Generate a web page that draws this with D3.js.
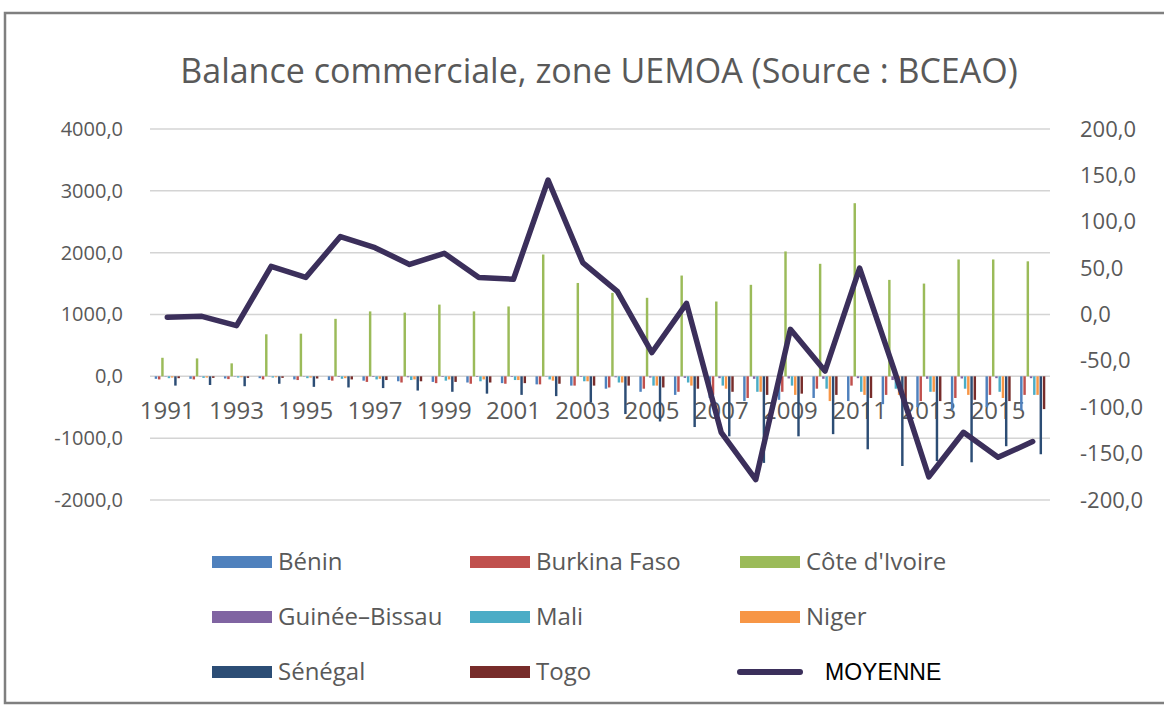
<!DOCTYPE html>
<html>
<head>
<meta charset="utf-8">
<script src="https://cdn.jsdelivr.net/npm/d3@7"></script>
<style>
  body { margin: 0; background: #fff; }
  svg { display: block; font-family: "Open Sans", "Noto Sans", sans-serif; }
  .lbl { fill: #595959; }
</style>
</head>
<body>
<svg id="chart" width="1164" height="708"></svg>
<script>
// Années (catégories) et étiquettes de l'axe horizontal.
const years = ["1991", "1992", "1993", "1994", "1995", "1996", "1997", "1998", "1999", "2000",
  "2001", "2002", "2003", "2004", "2005", "2006", "2007", "2008", "2009", "2010",
  "2011", "2012", "2013", "2014", "2015", "2016"];
const yearLabels = ["1991", "1993", "1995", "1997", "1999", "2001", "2003", "2005", "2007",
  "2009", "2011", "2013", "2015"];

// Pays de la zone.
const countries = ["Bénin", "Burkina Faso", "Côte d'Ivoire", "Guinée–Bissau", "Mali", "Niger", "Sénégal", "Togo"];
const colors = ["#4f81bd", "#c0504d", "#9bbb59", "#8064a2", "#4bacc6", "#f79646", "#2c4d75", "#772c2a"];

// Balance commerciale par pays (milliards FCFA).
const benin = [-40, -40, -35, -30, -50, -60, -70, -80, -90, -100, -110, -130, -150, -200, -250, -300, -350, -400, -380, -350, -400, -450, -500, -550, -500, -550];
const burkina = [-50, -50, -45, -50, -60, -70, -90, -100, -110, -120, -120, -130, -150, -180, -200, -250, -300, -350, -250, -200, -150, -300, -400, -350, -300, -300];
const coteIvoire = [300, 290, 210, 680, 690, 930, 1050, 1030, 1160, 1050, 1130, 1970, 1510, 1350, 1270, 1630, 1210, 1480, 2020, 1820, 2800, 1560, 1500, 1890, 1890, 1860];
const guineeBissau = [-5, -5, -5, -4, -5, -10, -10, -15, -10, -10, -10, -5, -10, -15, -20, -25, -30, -40, -35, -40, -30, -60, -40, -35, -30, -30];
const mali = [-30, -25, -20, -20, -30, -40, -50, -60, -70, -80, -60, -50, -80, -100, -150, -100, -150, -250, -150, -200, -250, -200, -250, -200, -250, -300];
const niger = [-20, -20, -15, -15, -20, -30, -40, -50, -50, -50, -60, -70, -80, -100, -150, -150, -200, -250, -300, -400, -300, -300, -250, -300, -350, -300];
const senegal = [-150, -140, -160, -120, -170, -180, -190, -230, -250, -280, -300, -320, -420, -610, -730, -820, -970, -1400, -970, -935, -1180, -1450, -1370, -1390, -1130, -1260];
const togo = [-30, -25, -25, -25, -35, -50, -60, -80, -90, -100, -110, -120, -150, -150, -180, -200, -250, -300, -280, -300, -350, -400, -400, -380, -400, -530];

// Moyenne (axe de droite).
const moyenne = [-3, -2, -12, 52, 40, 84, 72, 54, 66, 40, 38, 145, 56, 25, -41, 12, -127, -178, -16, -61, 50, -60, -175, -127, -154, -137];

const leftTicks = [-2000, -1000, 0, 1000, 2000, 3000, 4000];
const rightTicks = [-200, -150, -100, -50, 0, 50, 100, 150, 200];

const series = [benin, burkina, coteIvoire, guineeBissau, mali, niger, senegal, togo];

const svg = d3.select("#chart");
const fr = d3.formatLocale({ decimal: ",", thousands: " ", grouping: [3], currency: ["", " €"], minus: "-" });
const fmt = fr.format(".1f");

// Cadre
svg.append("rect")
  .attr("x", 5).attr("y", 13)
  .attr("width", 1200).attr("height", 690)
  .attr("fill", "none").attr("stroke", "#7f7f7f").attr("stroke-width", 2.5);

// Titre
svg.append("text")
  .attr("class", "lbl")
  .attr("x", 599).attr("y", 83)
  .attr("text-anchor", "middle")
  .style("font-size", "34px")
  .text("Balance commerciale, zone UEMOA (Source : BCEAO)");

const x = d3.scaleBand().domain(years).range([150, 1050]).paddingInner(0.25).paddingOuter(0.125);
const x1 = d3.scaleBand().domain(countries).range([0, x.bandwidth()]);
const y = d3.scaleLinear().domain([-2000, 4000]).range([500, 129]);
const y2 = d3.scaleLinear().domain([-200, 200]).range([500, 129]);

// Quadrillage
svg.append("g")
  .selectAll("line")
  .data(leftTicks)
  .enter().append("line")
  .attr("x1", 150).attr("x2", 1050)
  .attr("y1", d => y(d)).attr("y2", d => y(d))
  .attr("stroke", "#d4d4d4").attr("stroke-width", 1.5);

// Axe gauche
const gLeft = svg.append("g")
  .attr("transform", "translate(150,0)")
  .call(d3.axisLeft(y).tickValues(leftTicks).tickFormat(fmt).tickSize(0).tickPadding(27));
// Axe droit
const gRight = svg.append("g")
  .attr("transform", "translate(1050,0)")
  .call(d3.axisRight(y2).tickValues(rightTicks).tickFormat(fmt).tickSize(0).tickPadding(30));
// Axe des années
const gBottom = svg.append("g")
  .attr("transform", "translate(0," + y(0) + ")")
  .call(d3.axisBottom(x).tickValues(yearLabels).tickSize(0).tickPadding(26));

[gLeft, gRight, gBottom].forEach(function (g) {
  g.select(".domain").remove();
  g.selectAll("text")
    .attr("fill", "#595959")
    .style("font-family", "\"Open Sans\", sans-serif");
});
gLeft.selectAll("text").style("font-size", "20px");
gRight.selectAll("text").style("font-size", "22px");
gBottom.selectAll("text").style("font-size", "24px");

// Barres
const groups = svg.append("g")
  .selectAll("g")
  .data(years)
  .enter().append("g")
  .attr("transform", d => "translate(" + x(d) + ",0)");

groups.selectAll("rect")
  .data((yr, i) => series.map((s, k) => ({ k: k, v: s[i] })))
  .enter().append("rect")
  .attr("x", d => x1(countries[d.k]) + 0.4)
  .attr("width", Math.max(1, x1.bandwidth() - 0.8))
  .attr("y", d => y(Math.max(0, d.v)))
  .attr("height", d => Math.abs(y(d.v) - y(0)))
  .attr("fill", d => colors[d.k]);

// Courbe de la moyenne
const line = d3.line()
  .x((d, i) => x(years[i]) + x.bandwidth() / 2)
  .y(d => y2(d));

svg.append("path")
  .datum(moyenne)
  .attr("d", line)
  .attr("fill", "none")
  .attr("stroke", "#3b2f5b")
  .attr("stroke-width", 5.5)
  .attr("stroke-linejoin", "round")
  .attr("stroke-linecap", "round");

// Légende
const legendItems = countries.map((c, k) => ({ name: c, color: colors[k], type: "bar" }))
  .concat([{ name: "MOYENNE", color: "#3b2f5b", type: "line" }]);
const colX = [212, 470, 740];
const rowY = [562, 617, 672];

const leg = svg.append("g")
  .selectAll("g")
  .data(legendItems)
  .enter().append("g")
  .attr("transform", (d, i) => "translate(" + colX[i % 3] + "," + rowY[Math.floor(i / 3)] + ")");

leg.filter(d => d.type === "bar").append("rect")
  .attr("x", 0).attr("y", -6)
  .attr("width", 60).attr("height", 12)
  .attr("fill", d => d.color);

leg.filter(d => d.type === "line").append("line")
  .attr("x1", 0).attr("x2", 60)
  .attr("y1", 0).attr("y2", 0)
  .attr("stroke", d => d.color)
  .attr("stroke-width", 6)
  .attr("stroke-linecap", "round");

leg.append("text")
  .attr("x", d => d.type === "line" ? 85 : 66)
  .attr("y", 0)
  .attr("dy", "0.35em")
  .attr("fill", d => d.type === "line" ? "#000" : "#595959")
  .style("font-size", d => d.type === "line" ? "23px" : "24px")
  .style("font-family", d => d.type === "line" ? "\"Liberation Sans\", Arial, sans-serif" : "\"Open Sans\", sans-serif")
  .text(d => d.name);
</script>
</body>
</html>
